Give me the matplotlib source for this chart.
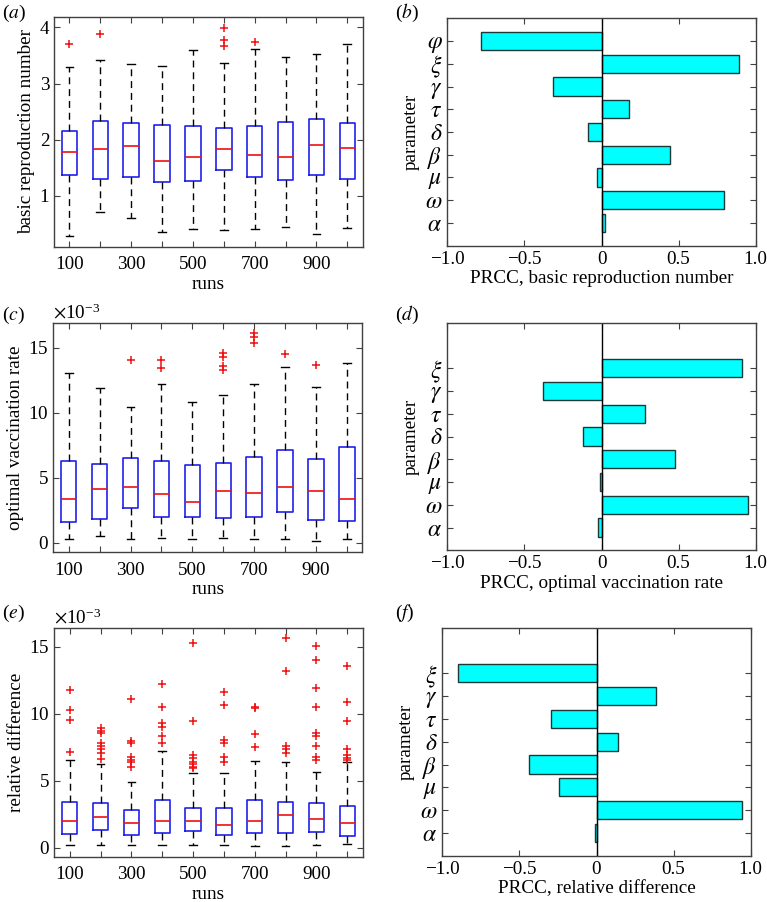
import matplotlib
matplotlib.use('Agg')
import matplotlib.pyplot as plt

plt.rcParams['font.family'] = ['Liberation Serif', 'DejaVu Serif']
plt.rcParams['mathtext.fontset'] = 'stix'
plt.rcParams['font.size'] = 13.8

runs = [100, 200, 300, 400, 500, 600, 700, 800, 900, 1000]

# (a) basic reproduction number
r0_med = [1.78, 1.83, 1.89, 1.63, 1.70, 1.83, 1.73, 1.70, 1.90, 1.85]
r0_q1 = [1.37, 1.30, 1.34, 1.25, 1.26, 1.46, 1.33, 1.28, 1.37, 1.30]
r0_q3 = [2.15, 2.33, 2.30, 2.26, 2.24, 2.21, 2.25, 2.31, 2.37, 2.30]
r0_lo = [0.285, 0.71, 0.61, 0.36, 0.41, 0.40, 0.41, 0.44, 0.33, 0.43]
r0_hi = [3.29, 3.42, 3.34, 3.32, 3.60, 3.36, 3.62, 3.48, 3.52, 3.70]
r0_out = [[3.71], [3.89], [], [], [], [3.67, 3.77, 3.99], [3.74], [], [], []]

# (c) optimal vaccination rate (x 1e-3)
vac_med = [3.36, 4.13, 4.26, 3.72, 3.10, 4.00, 3.85, 4.26, 3.97, 3.38]
vac_q1 = [1.62, 1.82, 2.69, 1.95, 2.00, 1.92, 1.97, 2.38, 1.77, 1.69]
vac_q3 = [6.28, 6.05, 6.54, 6.28, 6.00, 6.10, 6.56, 7.13, 6.46, 7.36]
vac_lo = [0.31, 0.54, 0.26, 0.38, 0.31, 0.36, 0.28, 0.28, 0.10, 0.28]
vac_hi = [13.1, 11.9, 10.46, 12.2, 10.82, 11.35, 12.23, 13.56, 11.97, 13.85]
vac_out = [[], [], [14.08], [13.46, 14.1], [], [13.33, 13.64, 14.28, 14.64],
           [15.38, 15.82, 16.18], [14.54], [13.67], []]

# (e) relative difference (x 1e-3)
rd_med = [2.04, 2.29, 1.87, 2.01, 2.04, 1.69, 1.99, 2.44, 2.16, 1.84]
rd_q1 = [1.07, 1.34, 0.95, 1.14, 1.29, 0.97, 1.09, 1.14, 1.22, 0.92]
rd_q3 = [3.41, 3.33, 2.84, 3.61, 3.01, 2.96, 3.58, 3.46, 3.33, 3.13]
rd_lo = [0.22, 0.23, 0.23, 0.25, 0.24, 0.22, 0.15, 0.13, 0.20, 0.30]
rd_hi = [6.58, 6.24, 4.93, 7.23, 5.62, 5.57, 6.46, 6.39, 5.67, 6.41]
rd_out = [[7.13, 9.53, 10.27, 11.81],
          [6.61, 7.05, 7.35, 7.60, 7.85, 8.59, 8.71, 8.96],
          [6.06, 6.41, 6.56, 6.78, 7.85, 7.95, 11.09],
          [7.85, 8.37, 9.03, 9.28, 10.52, 12.23],
          [5.94, 6.06, 6.24, 6.44, 6.71, 6.96, 9.46, 15.30],
          [6.44, 6.76, 7.80, 8.04, 10.69, 11.61],
          [7.55, 8.51, 10.47, 10.52],
          [7.05, 7.40, 7.60, 13.22, 15.64],
          [6.58, 6.78, 7.60, 8.34, 8.56, 10.54, 11.96, 14.01, 15.05],
          [6.56, 6.73, 6.91, 7.35, 9.50, 10.87, 13.59]]

# PRCC bars, bottom to top
par9 = [r'$\alpha$', r'$\omega$', r'$\mu$', r'$\beta$', r'$\delta$',
        r'$\tau$', r'$\gamma$', r'$\xi$', r'$\varphi$']
par8 = par9[:8]
prcc_r0 = [0.022, 0.797, -0.028, 0.444, -0.089, 0.18, -0.314, 0.892, -0.779]
prcc_vac = [-0.022, 0.950, -0.009, 0.474, -0.121, 0.284, -0.377, 0.913]
prcc_rd = [-0.01, 0.944, -0.246, -0.436, 0.138, -0.294, 0.387, -0.90]

W, H = 767, 902
fig = plt.figure(figsize=(W / 100, H / 100), dpi=100)


def style(ax):
    for s in ax.spines.values():
        s.set_color('#404040')
        s.set_linewidth(1)
    ax.tick_params(direction='in', top=True, right=True, length=4, width=0.8,
                   color='#404040')


def box_ax(rect, med, q1, q3, lo, hi, out, scale, ylim, yticks, ylabel):
    ax = fig.add_axes(rect)
    stats = []
    for i in range(len(med)):
        stats.append(dict(med=med[i] * scale, q1=q1[i] * scale, q3=q3[i] * scale,
                          whislo=lo[i] * scale, whishi=hi[i] * scale,
                          fliers=[v * scale for v in out[i]]))
    pos = list(range(1, len(runs) + 1))
    ax.bxp(stats, positions=pos, widths=0.5, capwidths=0.25,
           boxprops=dict(color='#2020ee', lw=1.2),
           medianprops=dict(color='#ee1010', lw=1.2),
           whiskerprops=dict(color='k', lw=1, ls=(0, (5, 3.5))),
           capprops=dict(color='k', lw=1),
           flierprops=dict(marker='+', markeredgecolor='#ee1010', markersize=6,
                           markeredgewidth=1.1, ls='none'))
    ax.set_xlim(0.5, 10.5)
    ax.set_ylim(ylim[0] * scale, ylim[1] * scale)
    ax.set_xticks(pos)
    ax.set_xticklabels([str(r) if i % 2 == 0 else '' for i, r in enumerate(runs)])
    ax.set_yticks([t * scale for t in yticks])
    if scale != 1:
        ax.ticklabel_format(axis='y', style='sci', scilimits=(-3, -3), useMathText=True)
    ax.set_xlabel('runs', labelpad=1.5)
    ax.set_ylabel(ylabel, labelpad=3)
    style(ax)
    ax.tick_params(axis='x', pad=7)
    return ax


def bar_ax(rect, labels, vals, xlabel):
    ax = fig.add_axes(rect)
    y = list(range(1, len(vals) + 1))
    ax.barh(y, vals, height=0.8, color='#00ffff', edgecolor='#1a3a3a', lw=1)
    ax.axvline(0, color='k', lw=1)
    ax.set_xlim(-1, 1)
    ax.set_ylim(0, 10)
    ax.set_yticks(y)
    ax.set_yticklabels(labels, fontsize=17)
    ax.set_xticks([-1, -0.5, 0, 0.5, 1])
    ax.set_xticklabels(['\u22121.0', '\u22120.5', '0', '0.5', '1.0'])
    ax.set_xlabel(xlabel, labelpad=2)
    ax.set_ylabel('parameter', labelpad=4)
    style(ax)
    return ax


def rect(l, r, t, b):
    return [l / W, 1 - b / H, (r - l) / W, (b - t) / H]


box_ax(rect(54, 362.7, 17.3, 246.7), r0_med, r0_q1, r0_q3, r0_lo, r0_hi, r0_out,
       1, (0.096, 4.18), [1, 2, 3, 4], 'basic reproduction number')
box_ax(rect(53.3, 362.3, 322.7, 552.3), vac_med, vac_q1, vac_q3, vac_lo, vac_hi, vac_out,
       1e-3, (-0.75, 16.95), [0, 5, 10, 15], 'optimal vaccination rate')
box_ax(rect(54.3, 362.7, 627.7, 856.7), rd_med, rd_q1, rd_q3, rd_lo, rd_hi, rd_out,
       1e-3, (-0.65, 16.42), [0, 5, 10, 15], 'relative difference')

bar_ax(rect(447.3, 755.7, 18.3, 245.7), par9, prcc_r0, 'PRCC, basic reproduction number')
bar_ax(rect(447.3, 755.7, 322.7, 550.3), par8, prcc_vac, 'PRCC, optimal vaccination rate')
bar_ax(rect(442.3, 750.7, 627.7, 855.7), par8, prcc_rd, 'PRCC, relative difference')

for lab, x, y in [('a', 2, 13), ('b', 395, 13), ('c', 2, 315), ('d', 395, 315),
                  ('e', 2, 613), ('f', 395, 613)]:
    fig.text(x / W, 1 - y / H, '(' + r'$\mathit{' + lab + '}$' + ')', va='center',
             ha='left', fontsize=14)

fig.savefig('out.png', dpi=100)
